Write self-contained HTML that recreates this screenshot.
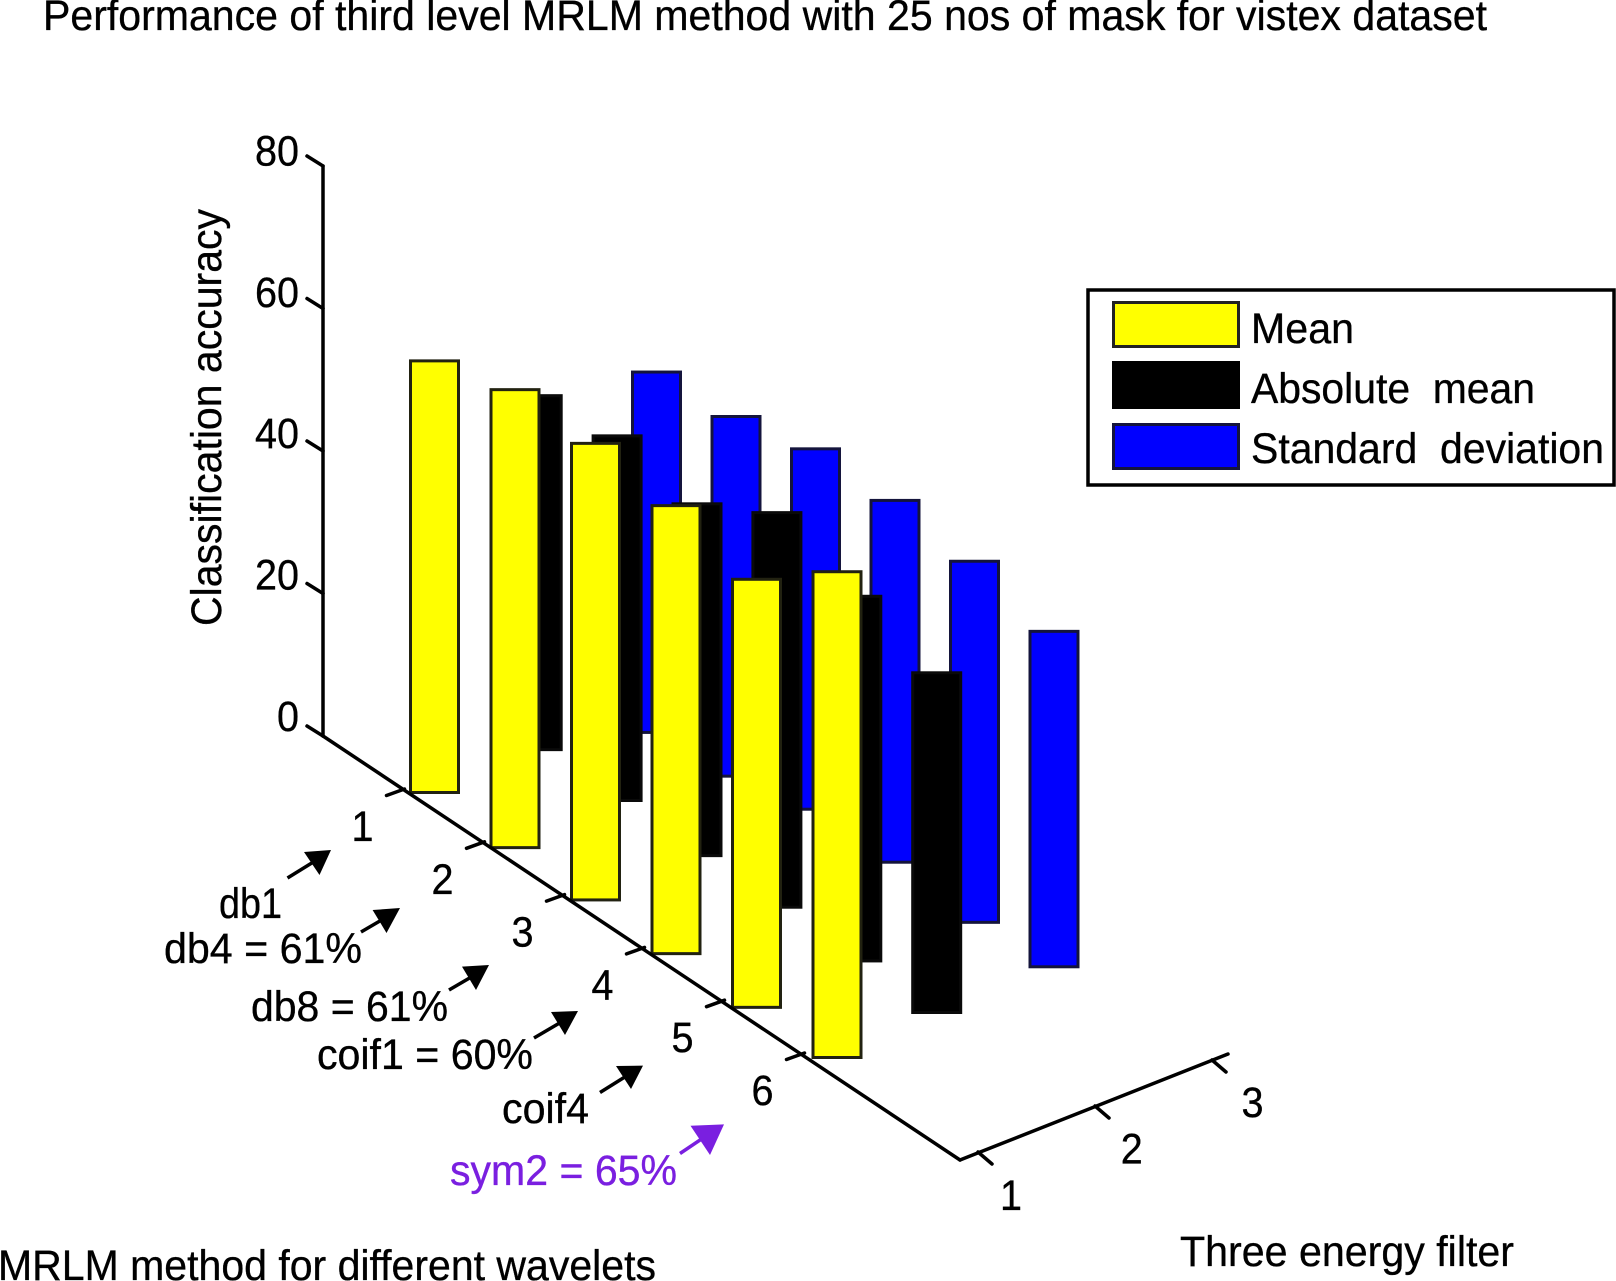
<!DOCTYPE html>
<html>
<head>
<meta charset="utf-8">
<title>Performance of third level MRLM method</title>
<style>
html,body{margin:0;padding:0;background:#fff;}
svg{display:block;}
text{font-family:"Liberation Sans",Arial,sans-serif;font-size:43px;fill:#000;stroke:#000;stroke-width:.35px;white-space:pre;}
</style>
</head>
<body>
<svg id="chart" width="1616" height="1281" viewBox="0 0 1616 1281" xmlns="http://www.w3.org/2000/svg">
  <text x="43" y="30" textLength="1444" lengthAdjust="spacingAndGlyphs">Performance of third level MRLM method with 25 nos of mask for vistex dataset</text>
  <text transform="translate(221,626) rotate(-90)" textLength="417" lengthAdjust="spacingAndGlyphs">Classification accuracy</text>
  <text x="-2" y="1280" textLength="658" lengthAdjust="spacingAndGlyphs">MRLM method for different wavelets</text>
  <text x="1180" y="1266" textLength="334" lengthAdjust="spacingAndGlyphs">Three energy filter</text>

  <g id="bars"></g>
  <g id="axes"></g>

  <g>
    <text x="219" y="918" textLength="63" lengthAdjust="spacingAndGlyphs">db1</text>
    <line x1="287.5" y1="878" x2="315" y2="861" stroke="#000" stroke-width="3.5"/>
    <polygon points="331,850 304,852 319.5,875" fill="#000"/>

    <text x="164" y="963" textLength="198" lengthAdjust="spacingAndGlyphs">db4 = 61%</text>
    <line x1="361" y1="932" x2="385" y2="918" stroke="#000" stroke-width="3.5"/>
    <polygon points="400,908 372.6,910 386.5,933" fill="#000"/>

    <text x="251" y="1021" textLength="197" lengthAdjust="spacingAndGlyphs">db8 = 61%</text>
    <line x1="449" y1="990" x2="473" y2="976" stroke="#000" stroke-width="3.5"/>
    <polygon points="489,965 462,966.6 476,990" fill="#000"/>

    <text x="317" y="1069" textLength="216" lengthAdjust="spacingAndGlyphs">coif1 = 60%</text>
    <line x1="534" y1="1038" x2="563" y2="1021" stroke="#000" stroke-width="3.5"/>
    <polygon points="578,1011 551,1012 565,1035" fill="#000"/>

    <text x="502" y="1123" textLength="87" lengthAdjust="spacingAndGlyphs">coif4</text>
    <line x1="600" y1="1092.5" x2="628" y2="1075" stroke="#000" stroke-width="3.5"/>
    <polygon points="643,1065.6 616,1066 631,1089" fill="#000"/>

    <text x="450" y="1185" textLength="227" lengthAdjust="spacingAndGlyphs" style="fill:#7a1fe0;stroke:#7a1fe0">sym2 = 65%</text>
    <line x1="680" y1="1153.5" x2="706" y2="1136" stroke="#7a1fe0" stroke-width="3.5"/>
    <polygon points="724,1124.4 690.5,1125.7 710,1155" fill="#7a1fe0"/>
  </g>

  <g>
    <rect x="1088" y="290" width="526" height="195" fill="#fff" stroke="#000" stroke-width="3.5"/>
    <rect x="1113.5" y="302.5" width="125" height="44" fill="#ffff00" stroke="#222" stroke-width="3"/>
    <text x="1251" y="343" textLength="103" lengthAdjust="spacingAndGlyphs">Mean</text>
    <rect x="1113.5" y="362.5" width="125" height="45" fill="#000" stroke="#000" stroke-width="3"/>
    <text x="1251" y="403" textLength="284" lengthAdjust="spacingAndGlyphs">Absolute  mean</text>
    <rect x="1113.5" y="424.5" width="125" height="44" fill="#0000ff" stroke="#14143c" stroke-width="3"/>
    <text x="1251" y="463" textLength="353" lengthAdjust="spacingAndGlyphs">Standard  deviation</text>
  </g>
</svg>

<script>
// Wavelet categories (x axis), energy filters (depth axis), accuracy ticks (y axis)
const waveletTicks = [1, 2, 3, 4, 5, 6];
const filterTicks = [1, 2, 3];
const accuracyTicks = [0, 20, 40, 60, 80];

// Series values: bar top and bar foot, in accuracy units, one per wavelet
const meanTop = [61.0, 64.4, 64.3, 63.0, 60.1, 68.6];
const meanFoot = [0, -0.3, -0.2, -0.3, -0.4, 0];
const absMeanTop = [49.8, 51.6, 49.5, 55.7, 51.4, 48.1];
const absMeanFoot = [-0.3, 0, -0.3, -0.1, -0.2, 0];
const stdDevTop = [46.8, 48.0, 50.9, 51.1, 50.0, 47.6];
const stdDevFoot = [-4.2, -2.9, -0.1, -0.1, -1.1, 0.1];

const NS = 'http://www.w3.org/2000/svg';
const barsLayer = document.getElementById('bars');
const axesLayer = document.getElementById('axes');

function mk(parent, tag, attrs, content) {
  const el = document.createElementNS(NS, tag);
  for (const k in attrs) el.setAttribute(k, attrs[k]);
  if (content !== undefined) el.textContent = content;
  parent.appendChild(el);
  return el;
}

// Axis functions of the oblique projection
function accuracyPx(v) { return 7.125 * v; }
function yAxisY(v) { return 736 - accuracyPx(v); }
function yLabelY(v) { return 731 - 7.07 * v; }
function waveletTickX(i) { return 404.5 + 80 * (i - 1); }
function waveletTickY(i) { return 789 + 52.8 * (i - 1); }
function filterTickX(j) { return 978 + 117 * (j - 1); }
function filterTickY(j) { return 1152 - 46 * (j - 1); }
function filterLabelX(j) { return 1011 + 120.75 * (j - 1); }
function filterLabelY(j) { return 1210 - 47 * (j - 1) + (j - 1) * 0.5; }
function barX(i, j) {
  if (j === 1) return 409 + 80.5 * (i - 1);
  if (j === 2) return 511.7 + 79.9 * (i - 1);
  return 631 + 79.5 * (i - 1);
}
function groundY(i, j) { return 794 + 53 * (i - 1) - 45 * (j - 1); }

const BAR_W = 51;
const SW = 3;

function drawSeries(tops, feet, j, fill, stroke, seriesName) {
  waveletTicks.forEach(function (w, idx) {
    const g = groundY(w, j);
    const yTop = g - accuracyPx(tops[idx]);
    const yFoot = g - accuracyPx(feet[idx]);
    const bar = mk(barsLayer, 'rect', {
      x: barX(w, j) + SW / 2,
      y: yTop + SW / 2,
      width: BAR_W - SW,
      height: yFoot - yTop - SW,
      fill: fill,
      stroke: stroke,
      'stroke-width': SW
    });
    
    
  });
}

// Back to front: standard deviation, absolute mean, mean
drawSeries(stdDevTop, stdDevFoot, 3, '#0000ff', '#14143c', 'standard-deviation');
drawSeries(absMeanTop, absMeanFoot, 2, '#000000', '#0a0a0a', 'absolute-mean');
drawSeries(meanTop, meanFoot, 1, '#ffff00', '#222211', 'mean');

const axisStyle = { stroke: '#000', 'stroke-width': 3.5, fill: 'none', 'stroke-linecap': 'round' };

function axisLine(x1, y1, x2, y2) {
  return mk(axesLayer, 'line', Object.assign({ x1: x1, y1: y1, x2: x2, y2: y2 }, axisStyle));
}

// Main axis lines
const yAxisLine = axisLine(323, yAxisY(0), 323, yAxisY(80));


const xAxisLine = axisLine(323, yAxisY(0), 960, 1160);


const depthAxisLine = axisLine(960, 1160, 1228, 1054);



// Y axis ticks and labels
accuracyTicks.forEach(function (v) {
  const y = yAxisY(v);
  const tick = axisLine(307, y - 10, 323, y);
  
  
  const text = String(v);
  const label = mk(axesLayer, 'text', { x: 299, y: yLabelY(v), 'text-anchor': 'end', textLength: 22 * text.length, lengthAdjust: 'spacingAndGlyphs' }, text);
  
  
});

// Wavelet axis ticks and labels
waveletTicks.forEach(function (w) {
  const x = waveletTickX(w);
  const y = waveletTickY(w);
  const tick = axisLine(x, y, x - 18, y + 6.5);
  
  
  const label = mk(axesLayer, 'text', { x: x - 42, y: y + 52, 'text-anchor': 'middle', textLength: 22, lengthAdjust: 'spacingAndGlyphs' }, String(w));
  
  
});

// Energy filter axis ticks and labels
filterTicks.forEach(function (j) {
  const x = filterTickX(j);
  const y = filterTickY(j);
  const tick = axisLine(x, y, x + 14, y + 12);
  
  
  const label = mk(axesLayer, 'text', { x: filterLabelX(j), y: filterLabelY(j), 'text-anchor': 'middle', textLength: 22, lengthAdjust: 'spacingAndGlyphs' }, String(j));
  
  
});
</script>
</body>
</html>
